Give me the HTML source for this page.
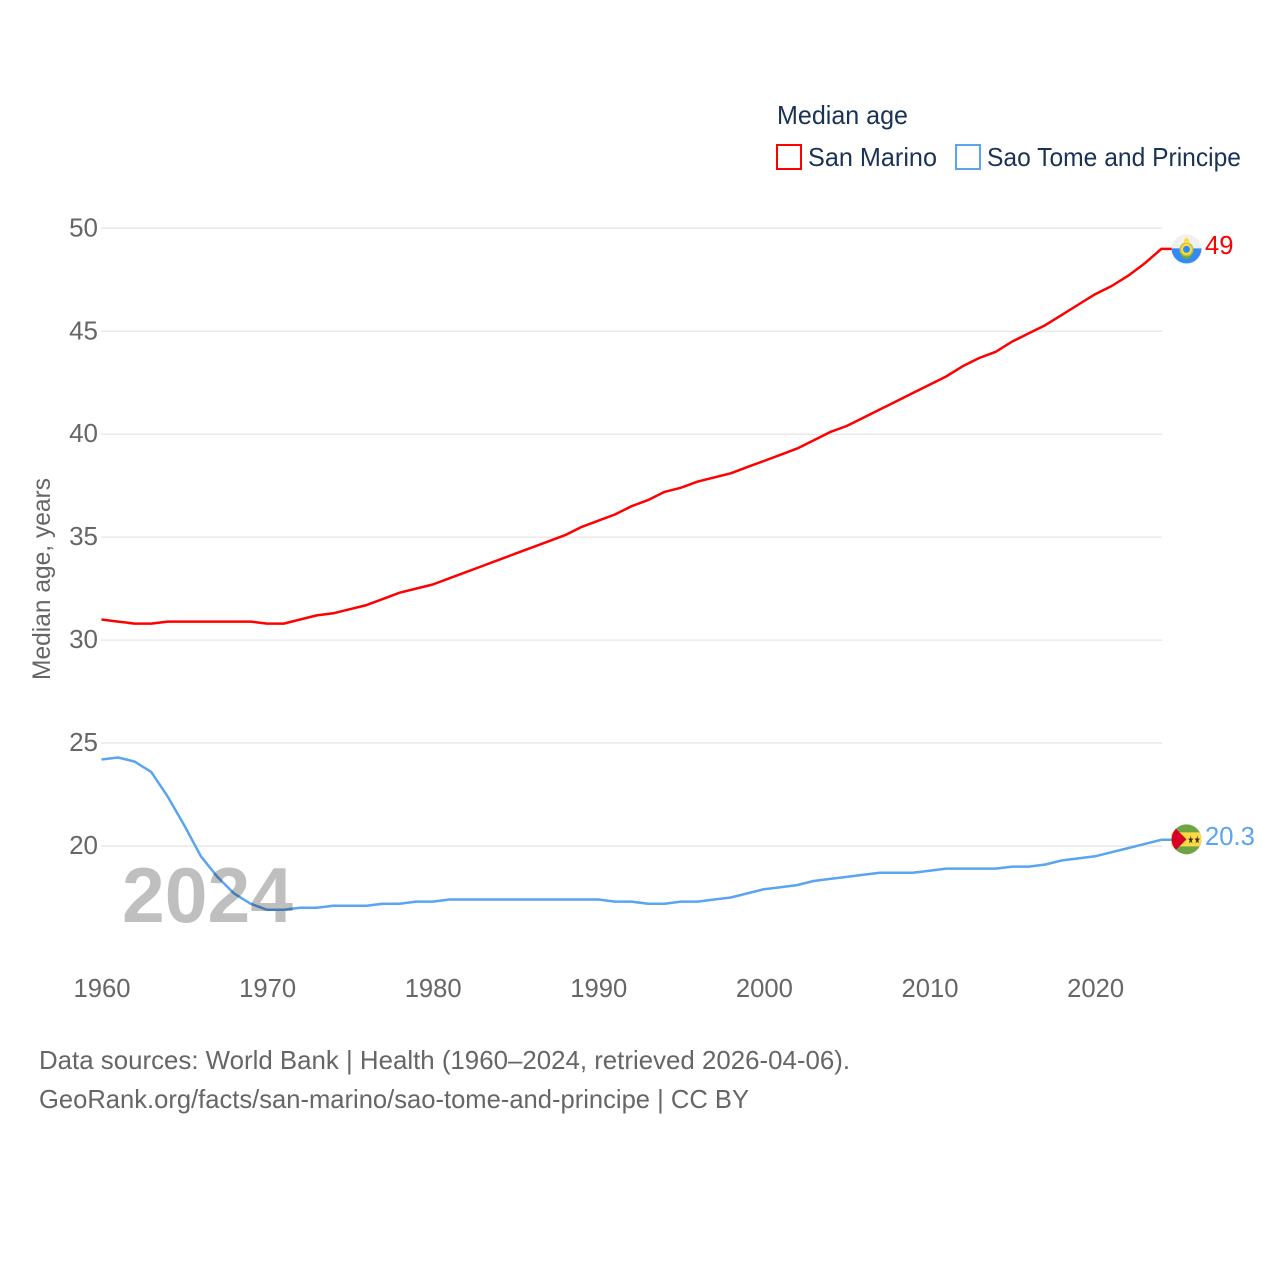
<!DOCTYPE html>
<html lang="en">
<head>
<meta charset="utf-8">
<title>Median age: San Marino and Sao Tome and Principe</title>
<style>
html,body{margin:0;padding:0;background:#fff;width:1280px;height:1280px;overflow:hidden}
svg{display:block}
text{font-family:"Liberation Sans",sans-serif}
</style>
</head>
<body>
<svg id="chart" xmlns="http://www.w3.org/2000/svg" width="1280" height="1280" viewBox="0 0 1280 1280">
  <rect width="1280" height="1280" fill="#fff"/>
  <g id="grid"></g>
  <g id="yticks"></g>
  <g id="xticks"></g>
  <text transform="translate(50,680) rotate(-90)" font-size="25" fill="#666" textLength="202" lengthAdjust="spacingAndGlyphs">Median age, years</text>
  <g id="series"></g>
  <text x="122" y="922" font-size="78" font-weight="700" fill="#000" fill-opacity="0.25" textLength="171" lengthAdjust="spacingAndGlyphs">2024</text>

  <g>
    <text x="777" y="124" font-size="26" fill="#1a3355" textLength="131" lengthAdjust="spacingAndGlyphs">Median age</text>
    <g>
      <rect x="777" y="145" width="24" height="24" fill="#fff" stroke="#ff0000" stroke-width="2"/>
      <text x="808" y="166" font-size="26" fill="#1a3355" textLength="129" lengthAdjust="spacingAndGlyphs">San Marino</text>
    </g>
    <g>
      <rect x="956" y="145" width="24" height="24" fill="#fff" stroke="#5ba4f0" stroke-width="2"/>
      <text x="987" y="166" font-size="26" fill="#1a3355" textLength="254" lengthAdjust="spacingAndGlyphs">Sao Tome and Principe</text>
    </g>
  </g>

  <g id="flag-sm"></g>
  <g id="flag-st"></g>

  <text x="39" y="1069" font-size="26" fill="#666" textLength="811" lengthAdjust="spacingAndGlyphs">Data sources: World Bank | Health (1960–2024, retrieved 2026-04-06).</text>
  <text x="39" y="1108" font-size="26" fill="#666" textLength="710" lengthAdjust="spacingAndGlyphs">GeoRank.org/facts/san-marino/sao-tome-and-principe | CC BY</text>
</svg>
<script>
const startYear = 1960;
const yTickValues = [20, 25, 30, 35, 40, 45, 50];
const xTickValues = [1960, 1970, 1980, 1990, 2000, 2010, 2020];
const sanMarino = [
  31.0, 30.9, 30.8, 30.8, 30.9, 30.9, 30.9, 30.9, 30.9, 30.9,
  30.8, 30.8, 31.0, 31.2, 31.3, 31.5, 31.7, 32.0, 32.3, 32.5,
  32.7, 33.0, 33.3, 33.6, 33.9, 34.2, 34.5, 34.8, 35.1, 35.5,
  35.8, 36.1, 36.5, 36.8, 37.2, 37.4, 37.7, 37.9, 38.1, 38.4,
  38.7, 39.0, 39.3, 39.7, 40.1, 40.4, 40.8, 41.2, 41.6, 42.0,
  42.4, 42.8, 43.3, 43.7, 44.0, 44.5, 44.9, 45.3, 45.8, 46.3,
  46.8, 47.2, 47.7, 48.3, 49.0
];
const saoTome = [
  24.2, 24.3, 24.1, 23.6, 22.4, 21.0, 19.5, 18.5, 17.7, 17.2,
  16.9, 16.9, 17.0, 17.0, 17.1, 17.1, 17.1, 17.2, 17.2, 17.3,
  17.3, 17.4, 17.4, 17.4, 17.4, 17.4, 17.4, 17.4, 17.4, 17.4,
  17.4, 17.3, 17.3, 17.2, 17.2, 17.3, 17.3, 17.4, 17.5, 17.7,
  17.9, 18.0, 18.1, 18.3, 18.4, 18.5, 18.6, 18.7, 18.7, 18.7,
  18.8, 18.9, 18.9, 18.9, 18.9, 19.0, 19.0, 19.1, 19.3, 19.4,
  19.5, 19.7, 19.9, 20.1, 20.3
];
const sanMarinoLabel = "49";
const saoTomeLabel = "20.3";

const NS = 'http://www.w3.org/2000/svg';
const xScale = year => 101.5 + (year - 1960) * 16.56;
const yScale = value => 846 - (value - 20) * 20.59;
function make(tag, attrs, parent) {
  const el = document.createElementNS(NS, tag);
  for (const key in attrs) el.setAttribute(key, attrs[key]);
  parent.appendChild(el);
  return el;
}

const gridGroup = document.getElementById('grid');
const yTickGroup = document.getElementById('yticks');
yTickValues.forEach(v => {
  const line = make('line', {x1: 101, x2: 1162, y1: yScale(v), y2: yScale(v), stroke: '#e9e9e9', 'stroke-width': 1.5}, gridGroup);
  
  
  const label = make('text', {x: 98, y: yScale(v) + 8, 'text-anchor': 'end', 'font-size': 26, fill: '#666'}, yTickGroup);
  label.textContent = v;
  
  
});

const xTickGroup = document.getElementById('xticks');
xTickValues.forEach(v => {
  const label = make('text', {x: xScale(v) + 0.5, y: 997, 'text-anchor': 'middle', 'font-size': 26, fill: '#666', textLength: 57, lengthAdjust: 'spacingAndGlyphs'}, xTickGroup);
  label.textContent = v;
  
  
});

const seriesGroup = document.getElementById('series');
function drawSeries(values, color, slug, labelText) {
  const pts = values.map((v, i) => xScale(startYear + i).toFixed(1) + ',' + yScale(v).toFixed(1));
  const lastY = yScale(values[values.length - 1]);
  pts.push('1172,' + lastY.toFixed(1));
  const line = make('polyline', {points: pts.join(' '), fill: 'none', stroke: color, 'stroke-width': 2.5, 'stroke-linejoin': 'round'}, seriesGroup);
  
  
  const label = make('text', {x: 1205, y: lastY + 5, 'font-size': 25.6, fill: color}, seriesGroup);
  label.textContent = labelText;
  
  
  return lastY;
}
const smY = drawSeries(sanMarino, '#ff0000', 'san-marino', sanMarinoLabel);
const stY = drawSeries(saoTome, '#5ba4f0', 'sao-tome', saoTomeLabel);

// San Marino flag
const fs = document.getElementById('flag-sm');
fs.setAttribute('transform', 'translate(1186.5,' + (smY + 0.5) + ')');
make('circle', {r: 15, fill: '#f0f0f0'}, fs);
make('path', {d: 'M-15,-1 A15,15 0 1 0 15,-1 Z', fill: '#338af3'}, fs);
make('path', {d: 'M-7,3 L-3,9 L0,10 L3,9 L7,3 L3,0 L-3,0 Z', fill: '#6da544'}, fs);
make('circle', {r: 7, cy: 0, fill: '#b9c43a'}, fs);
make('circle', {r: 5.5, cy: 0, fill: '#ffda44'}, fs);
make('circle', {r: 3.5, cy: 0, fill: '#338af3'}, fs);
make('path', {d: 'M-3,-6 L-2,-10 L0,-12 L2,-10 L3,-6 Z', fill: '#ffda44'}, fs);

// Sao Tome flag
const ft = document.getElementById('flag-st');
ft.setAttribute('transform', 'translate(1186.5,' + (stY - 0.5) + ')');
make('circle', {r: 15, fill: '#6da544'}, ft);
make('path', {d: 'M-15,-7 H13.2 A15,15 0 0 1 13.2,7 H-15 Z', fill: '#ffda44'}, ft);
make('path', {d: 'M-10.6,-10.6 L0,0 L-10.6,10.6 A15,15 0 0 1 -10.6,-10.6 Z', fill: '#d80027'}, ft);
make('text', {x: 1, y: 4, 'font-size': 11, fill: '#333', textLength: 13, lengthAdjust: 'spacingAndGlyphs'}, ft).textContent = '★★';
</script>
</body>
</html>
